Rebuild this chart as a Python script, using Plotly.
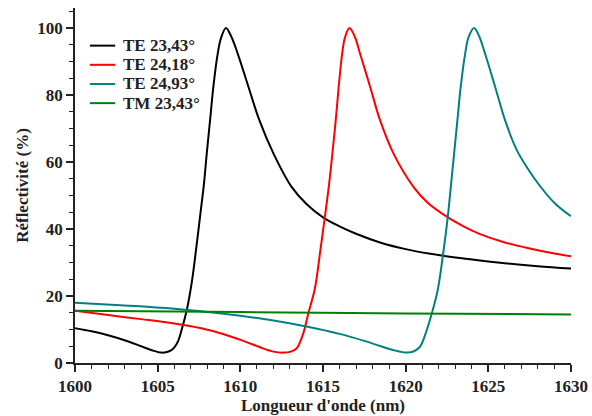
import plotly.graph_objects as go

# TE 23,43°
wl_te1 = [1600, 1601, 1602, 1603, 1604, 1604.6, 1605.24, 1605.7, 1606.0, 1606.25,
          1606.45, 1606.76, 1607.06, 1607.35, 1607.62, 1607.8, 1607.97, 1608.17, 1608.37, 1608.62,
          1608.83, 1609.13, 1609.45, 1609.84, 1610.49, 1611.15, 1612.0, 1613.1, 1614.0, 1615.0,
          1616.0, 1617.0, 1618.45, 1620.0, 1621.5, 1623.0, 1624.5, 1626.0, 1628.0, 1630]
r_te1 = [10.4, 9.5, 8.3, 6.8, 5.0, 3.9, 3.1, 3.5, 4.6, 6.7,
         9.9, 15.8, 24.0, 35.0, 46.0, 53.5, 62.6, 72.5, 82.5, 92.0,
         97.0, 100.0, 97.5, 92.4, 82.5, 72.5, 62.6, 52.6, 47.5, 43.5,
         40.8, 38.6, 36.0, 34.0, 32.6, 31.5, 30.6, 29.8, 28.9, 28.2]

# TE 24,18°
wl_te2 = [1600, 1602, 1604, 1606, 1607.5, 1609, 1610.3, 1611.2, 1612.0, 1612.6,
          1613.05, 1613.41, 1613.81, 1614.11, 1614.5, 1614.85, 1615.15, 1615.37, 1615.57, 1615.77,
          1615.95, 1616.15, 1616.32, 1616.6, 1616.92, 1617.24, 1617.85, 1618.45, 1619.26, 1620.47,
          1621.3, 1622.18, 1623.5, 1624.5, 1626.0, 1627.5, 1629.0, 1630]
r_te2 = [15.6, 14.3, 13.1, 11.8, 10.5, 8.6, 6.4, 4.7, 3.4, 3.1,
         3.4, 4.4, 8.9, 14.8, 22.0, 34.0, 45.0, 53.5, 62.6, 72.5,
         82.5, 92.0, 97.0, 100.0, 97.5, 92.4, 82.5, 72.5, 62.6, 52.6,
         48.0, 44.7, 40.8, 38.5, 36.0, 34.2, 32.7, 31.9]

# TE 24,93°
wl_te3 = [1600, 1603, 1606, 1609, 1612, 1614, 1616, 1617.5, 1618.5, 1619.3,
          1620.07, 1620.5, 1620.87, 1621.28, 1621.58, 1621.94, 1622.25, 1622.55, 1622.73, 1622.93,
          1623.13, 1623.33, 1623.6, 1623.8, 1624.14, 1624.45, 1624.8, 1625.41, 1626.01, 1626.7,
          1627.35, 1628.1, 1629.0, 1630]
r_te3 = [18.0, 17.2, 16.2, 14.7, 12.7, 10.9, 8.7, 6.6, 5.0, 3.8,
         3.1, 3.5, 4.9, 9.9, 14.8, 21.8, 32.0, 43.7, 52.6, 62.6,
         72.5, 82.5, 92.4, 97.2, 100.0, 97.5, 92.4, 82.5, 72.5, 63.8,
         58.3, 53.0, 47.8, 43.8]

# TM 23,43°
wl_tm = [1600, 1610, 1620, 1630]
r_tm = [15.6, 15.2, 14.8, 14.5]

series_names = ["TE 23,43°", "TE 24,18°", "TE 24,93°", "TM 23,43°"]
series_x = [wl_te1, wl_te2, wl_te3, wl_tm]
series_y = [r_te1, r_te2, r_te3, r_tm]
series_colors = ["#000000", "#FF0000", "#008080", "#008000"]

FONT = "Liberation Serif"
TXT = "#222222"
FS = 17

fig = go.Figure()
for name, x, y, c in zip(series_names, series_x, series_y, series_colors):
    fig.add_trace(go.Scatter(x=x, y=y, mode="lines", name=name, showlegend=False,
                             line=dict(color=c, width=2, shape="spline", smoothing=1.0)))

# legend drawn as line samples + text (paper coordinates)
leg_y = [0.894, 0.840, 0.786, 0.732]
for name, c, ly in zip(series_names, series_colors, leg_y):
    fig.add_shape(type="line", xref="paper", yref="paper",
                  x0=0.030, x1=0.081, y0=ly, y1=ly, line=dict(color=c, width=2))
    fig.add_annotation(xref="paper", yref="paper", x=0.093, y=ly, text=name,
                       showarrow=False, xanchor="left", yanchor="middle",
                       font=dict(family=FONT, size=FS, color=TXT, weight="bold"))

fig.update_layout(
    width=592, height=416,
    margin=dict(l=75, r=21, t=8, b=53),
    paper_bgcolor="white", plot_bgcolor="white",
    font=dict(family=FONT, size=FS, color=TXT, weight="bold"),
    showlegend=False,
)

fig.update_xaxes(
    range=[1600, 1630], dtick=5, tick0=1600, automargin=False,
    showgrid=False, zeroline=False,
    showline=True, linecolor=TXT, linewidth=1.5,
    ticks="outside", ticklen=7, tickwidth=1.5, tickcolor=TXT,
    minor=dict(dtick=1, ticks="outside", ticklen=4, tickwidth=1.2, tickcolor=TXT, showgrid=False),
    tickfont=dict(family=FONT, size=FS, color=TXT, weight="bold"),
    title=dict(text="Longueur d'onde (nm)", standoff=4,
               font=dict(family=FONT, size=FS, color=TXT, weight="bold")),
)
fig.update_yaxes(
    range=[0, 106], dtick=20, tick0=0, automargin=False,
    showgrid=False, zeroline=False,
    showline=True, linecolor=TXT, linewidth=1.5,
    ticks="outside", ticklen=7, tickwidth=1.5, tickcolor=TXT,
    minor=dict(dtick=5, ticks="outside", ticklen=4, tickwidth=1.2, tickcolor=TXT, showgrid=False),
    tickfont=dict(family=FONT, size=FS, color=TXT, weight="bold"),
    title=dict(text="Réflectivité (%)", standoff=4,
               font=dict(family=FONT, size=FS, color=TXT, weight="bold")),
)

fig.write_html("out.html", config={"displayModeBar": False},
               post_script="document.body.style.margin='0px';")
